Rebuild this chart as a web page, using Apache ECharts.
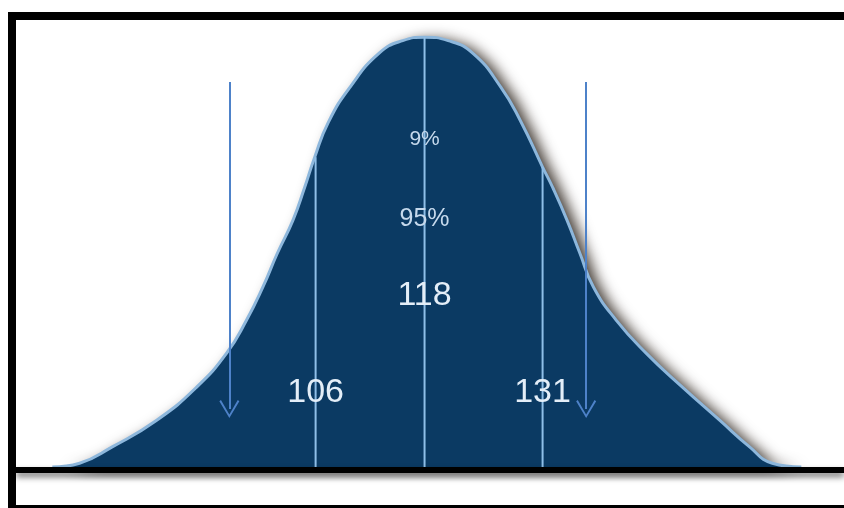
<!DOCTYPE html>
<html>
<head>
<meta charset="utf-8">
<title>Bell curve 106 - 118 - 131</title>
<script src="https://cdn.jsdelivr.net/npm/echarts@6/dist/echarts.min.js"></script>
<style>
  html, body { margin: 0; padding: 0; background: #fff; }
  .frame {
    position: absolute; left: 8px; top: 12px; right: 0; bottom: 0;
    border-left: 8px solid #000; border-top: 8px solid #000; border-bottom: 3px solid #000;
    box-sizing: border-box;
  }
  #chart { width: 828px; height: 485px; }
</style>
</head>
<body>
<div class="frame"><div id="chart"></div></div>
<script>
// curve (x = score, y = % of peak height)
const curveX = [77, 80.0, 83.6, 88.5, 92.9, 96.2, 98.4, 100.2, 101.8, 103.5, 104.8, 105.9, 107.4, 109.8, 113.0, 115.6, 118,
                120.6, 123.3, 126.4, 128.6, 131.0, 132.1, 133.7, 135.1, 136.6, 139.1, 142.4, 146.4, 150.5, 153.8, 156.3, 159.5]
const curveY = [0, 0.9, 4.7, 10.9, 18.6, 26.5, 34.2, 41.9, 49.8, 57.4, 65.1, 72.1, 80.2, 88.4, 96.3, 99.2, 100,
                99.2, 96.3, 88.4, 80.4, 69.8, 65.1, 57.4, 49.8, 41.9, 34.2, 26.5, 18.6, 10.9, 4.7, 0.9, 0]

// vertical guides at the marked scores
const guideX = [106, 118, 131]
const guideTop = [72.1, 100, 69.8]

// text inside the curve
const labelText = ['9%', '95%', '118', '106', '131']
const labelX = [118, 118, 118, 106, 131]
const labelY = [76.3, 57.7, 39.8, 17.4, 17.4]

// the two down arrows
const arrowX = [96.5, 135.8]
const arrowFrom = 89.6
const arrowTo = 13.5

const fontFor = { '9%': 21, '95%': 25, '118': 34, '106': 34, '131': 34 }

const chart = echarts.init(document.getElementById('chart'))

const guideSeries = guideX.map((x, i) => ({
  type: 'line',
  data: [[x, 0], [x, guideTop[i]]],
  symbol: 'none',
  lineStyle: { color: '#8fbfe8', width: 2 },
  z: 3,
  silent: true
}))

const option = {
  animation: false,
  grid: { left: 0, right: 0, top: 0, bottom: 25 },
  xAxis: {
    type: 'value', min: 73, max: 164.2,
    axisLine: { show: false }, axisTick: { show: false },
    axisLabel: { show: false }, splitLine: { show: false }
  },
  yAxis: {
    type: 'value', min: -3, max: 104,
    axisLine: { show: false }, axisTick: { show: false },
    axisLabel: { show: false }, splitLine: { show: false }
  },
  series: [
    {
      type: 'line',
      data: curveX.map((x, i) => [x, curveY[i]]),
      smooth: 0.5,
      symbol: 'none',
      lineStyle: { color: '#8db7dc', width: 3 },
      areaStyle: {
        color: '#0b3a63',
        opacity: 1,
        shadowColor: 'rgba(20,10,0,0.8)',
        shadowBlur: 14,
        shadowOffsetX: 8,
        shadowOffsetY: 2
      },
      z: 2,
      markLine: {
        silent: true,
        symbol: 'none',
        label: { show: false },
        lineStyle: {
          color: '#000', width: 6, type: 'solid',
          shadowColor: 'rgba(0,0,0,0.55)', shadowBlur: 6, shadowOffsetY: 4
        },
        data: [{ yAxis: -0.7 }]
      }
    },
    ...guideSeries,
    {
      type: 'scatter',
      symbolSize: 0,
      z: 5,
      silent: true,
      itemStyle: { opacity: 1 },
      data: labelText.map((t, i) => ({
        value: [labelX[i], labelY[i]],
        label: {
          show: true, position: 'inside', formatter: t,
          color: (t === '9%' || t === '95%') ? '#c6d9ec' : '#e4eef8',
          fontSize: fontFor[t],
          fontFamily: 'Liberation Sans, Arial, sans-serif'
        }
      })),
      markLine: {
        silent: true,
        symbol: ['none', 'path://M10,0 L20,17 L18.4,18.2 L10,3.6 L1.6,18.2 L0,17 Z'],
        symbolSize: [20, 18],
        label: { show: false },
        lineStyle: { color: '#4e82c9', width: 2, type: 'solid' },
        itemStyle: { color: '#4e82c9' },
        data: arrowX.map(x => [{ coord: [x, arrowFrom] }, { coord: [x, arrowTo] }])
      }
    }
  ]
}

chart.setOption(option)
</script>
</body>
</html>
